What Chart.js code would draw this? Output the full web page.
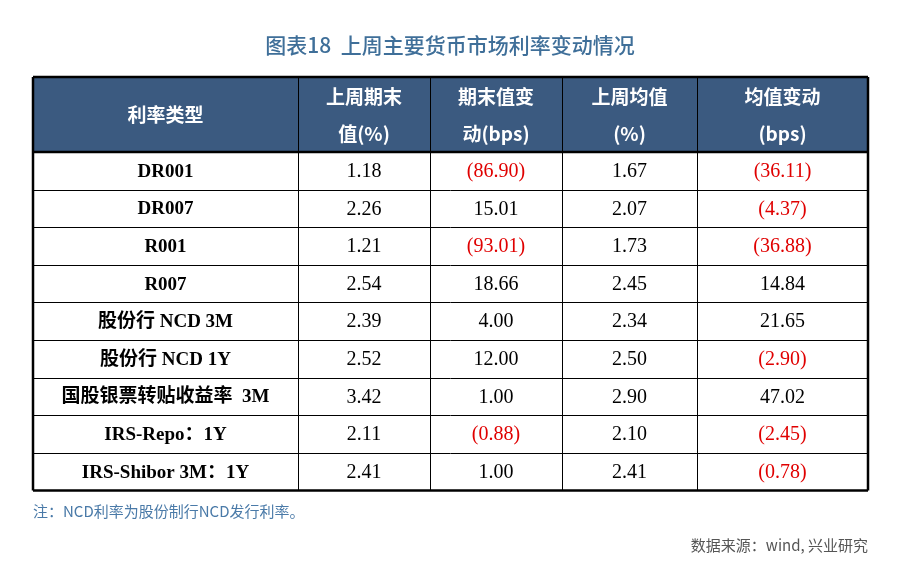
<!DOCTYPE html>
<html><head><meta charset="utf-8">
<script src="https://cdn.jsdelivr.net/npm/chart.js@4"></script>
<style>html,body{margin:0;padding:0;background:#fff}#wrap{width:900px;height:562px}</style>
</head><body><div id="wrap"><canvas id="c"></canvas></div>
<script>
// 表格数据
const headers = [['利率类型'], ['上周期末', '值(%)'], ['期末值变', '动(bps)'], ['上周均值', '(%)'], ['均值变动', '(bps)']];
const rateTypes = ['DR001', 'DR007', 'R001', 'R007', '股份行 NCD 3M', '股份行 NCD 1Y', '国股银票转贴收益率  3M', 'IRS-Repo：1Y', 'IRS-Shibor 3M：1Y'];
const endValue = [1.18, 2.26, 1.21, 2.54, 2.39, 2.52, 3.42, 2.11, 2.41];
const endChange = [-86.90, 15.01, -93.01, 18.66, 4.00, 12.00, 1.00, -0.88, 1.00];
const avgValue = [1.67, 2.07, 1.73, 2.45, 2.34, 2.50, 2.90, 2.10, 2.41];
const avgChange = [-36.11, -4.37, -36.88, 14.84, 21.65, -2.90, 47.02, -2.45, -0.78];

// 布局
const colEdges = [33, 298, 430, 562, 697, 868];
const headTop = 77, headBottom = 152, rowH = 37.6;

function fmt(v) {
    const s = Math.abs(v).toFixed(2);
    return v < 0 ? '(' + s + ')' : s;
}

const tablePlugin = {
    id: 'table',
    afterDraw(chart) {
        const ctx = chart.ctx, xs = chart.scales.x, ys = chart.scales.y;
        const X = v => xs.getPixelForValue(v), Y = v => ys.getPixelForValue(v);
        ctx.save();
        // 标题
        ctx.fillStyle = '#3f6f99';
        ctx.font = '500 21px "Noto Sans CJK SC"';
        ctx.textAlign = 'center'; ctx.textBaseline = 'middle';
        ctx.fillText('图表18  上周主要货币市场利率变动情况', X(450), Y(45));
        // 表头
        ctx.fillStyle = '#3b5a80';
        ctx.fillRect(X(colEdges[0]), Y(headTop), X(colEdges[5]) - X(colEdges[0]), Y(headBottom) - Y(headTop));
        ctx.fillStyle = '#fff';
        ctx.font = 'bold 19px "Noto Sans CJK SC"';
        headers.forEach((h, i) => {
            const cx = (X(colEdges[i]) + X(colEdges[i + 1])) / 2;
            const cy = (Y(headTop) + Y(headBottom)) / 2;
            if (h.length === 1) ctx.fillText(h[0], cx, cy);
            else { ctx.fillText(h[0], cx, cy - 18); ctx.fillText(h[1], cx, cy + 19); }
        });
        // 行
        const bottom = headBottom + rowH * rateTypes.length;
        rateTypes.forEach((name, r) => {
            const cy = Y(headBottom + rowH * (r + 0.5)) + 1;
            const cols = [name, endValue[r].toFixed(2), fmt(endChange[r]), avgValue[r].toFixed(2), fmt(avgChange[r])];
            const raw = [null, endValue[r], endChange[r], avgValue[r], avgChange[r]];
            cols.forEach((t, c) => {
                const cx = (X(colEdges[c]) + X(colEdges[c + 1])) / 2;
                if (c === 0) ctx.font = 'bold 19px "Liberation Serif", "Noto Sans CJK SC"';
                else ctx.font = '20px "Liberation Serif"';
                ctx.fillStyle = raw[c] !== null && raw[c] < 0 ? '#e00000' : '#000';
                ctx.fillText(t, cx, cy);
            });
        });
        // 网格线
        ctx.strokeStyle = '#000';
        ctx.lineWidth = 1;
        for (let r = 1; r < rateTypes.length; r++) {
            const y = Math.round(Y(headBottom + rowH * r)) + 0.5;
            ctx.beginPath(); ctx.moveTo(X(colEdges[0]), y); ctx.lineTo(X(colEdges[5]), y); ctx.stroke();
        }
        colEdges.slice(1, 5).forEach(e => {
            const x = Math.round(X(e)) + 0.5;
            ctx.beginPath(); ctx.moveTo(x, Y(headTop)); ctx.lineTo(x, Y(bottom)); ctx.stroke();
        });
        ctx.lineWidth = 2.5;
        [headTop, headBottom, bottom].forEach(v => {
            ctx.beginPath(); ctx.moveTo(X(colEdges[0]), Y(v)); ctx.lineTo(X(colEdges[5]), Y(v)); ctx.stroke();
        });
        [colEdges[0], colEdges[5]].forEach(e => {
            ctx.beginPath(); ctx.moveTo(X(e), Y(headTop)); ctx.lineTo(X(e), Y(bottom)); ctx.stroke();
        });
        // 注释与来源
        ctx.font = '15px "Noto Sans CJK SC"';
        ctx.fillStyle = '#4a7aa8';
        ctx.textAlign = 'left';
        ctx.fillText('注：NCD利率为股份制行NCD发行利率。', X(33), Y(511));
        ctx.fillStyle = '#555';
        ctx.textAlign = 'right';
        ctx.fillText('数据来源：wind, 兴业研究', X(868), Y(545));
        ctx.restore();
    }
};

new Chart(document.getElementById('c'), {
    type: 'scatter',
    data: { datasets: [{ data: [] }] },
    options: {
        responsive: true,
        maintainAspectRatio: false,
        animation: false,
        layout: { padding: 0 },
        plugins: { legend: { display: false }, tooltip: { enabled: false } },
        scales: {
            x: { type: 'linear', min: 0, max: 900, display: false },
            y: { type: 'linear', min: 0, max: 562, reverse: true, display: false }
        }
    },
    plugins: [tablePlugin]
});
</script>
</body></html>
